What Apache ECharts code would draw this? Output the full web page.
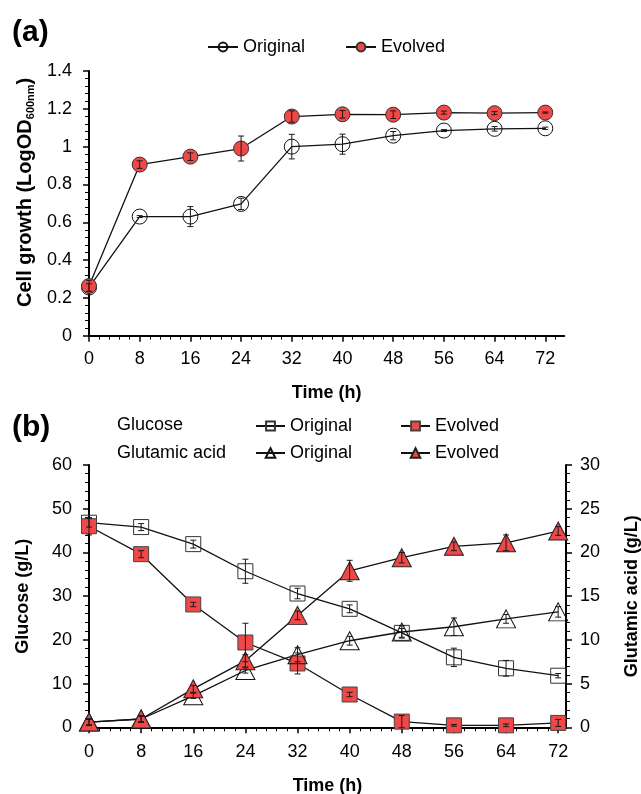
<!DOCTYPE html>
<html>
<head>
<meta charset="utf-8">
<script src="https://cdn.jsdelivr.net/npm/echarts@6/dist/echarts.min.js"></script>
<style>
html,body{margin:0;padding:0;background:#fff;}
#chart{width:641px;height:794px;}
</style>
</head>
<body>
<div id="chart"></div>
<script>
// ---- data ----
const time = [0, 8, 16, 24, 32, 40, 48, 56, 64, 72];
const xTicks = [0, 8, 16, 24, 32, 40, 48, 56, 64, 72];

const growthOriginal    = [0.255, 0.63, 0.63, 0.697, 1.0, 1.013, 1.058, 1.085, 1.094, 1.097];
const growthOriginalErr = [0.02, 0.005, 0.053, 0.03, 0.065, 0.053, 0.022, 0.005, 0.012, 0.006];
const growthEvolved     = [0.263, 0.905, 0.947, 0.99, 1.159, 1.171, 1.169, 1.18, 1.177, 1.18];
const growthEvolvedErr  = [0.03, 0.02, 0.02, 0.066, 0.03, 0.02, 0.02, 0.008, 0.008, 0.003];

const glucoseOriginal    = [46.8, 45.8, 41.9, 35.7, 30.6, 27.1, 21.6, 16.0, 13.5, 11.8];
const glucoseOriginalErr = [1.0, 0.8, 0.9, 2.75, 1.2, 0.9, 1.0, 2.1, 1.8, 0.5];
const glucoseEvolved     = [46.0, 39.6, 28.1, 19.4, 14.6, 7.5, 1.3, 0.45, 0.45, 1.0];
const glucoseEvolvedErr  = [2.0, 0.8, 0.5, 4.4, 2.4, 0.5, 1.4, 0.2, 0.3, 0.8];

const glutamicOriginal    = [0.6, 0.95, 3.6, 6.5, 8.3, 9.9, 10.9, 11.5, 12.4, 13.2];
const glutamicOriginalErr = [0.3, 0.3, 0.3, 0.3, 0.8, 0.5, 0.7, 1.0, 0.5, 0.6];
const glutamicEvolved     = [0.6, 0.95, 4.4, 7.6, 12.8, 17.9, 19.4, 20.7, 21.1, 22.45];
const glutamicEvolvedErr  = [0.4, 0.4, 0.4, 0.7, 0.5, 1.2, 0.6, 0.5, 0.9, 0.5];

// ---- helpers ----
const FONT = 'Liberation Sans, Arial, sans-serif';
const RED = '#F04848';
const minorX = (max) => { const a = []; for (let v = 1.6; v <= max + 1e-9; v += 1.6) { const r = Math.round(v * 10) / 10; if (Math.abs(r / 8 - Math.round(r / 8)) > 1e-6) a.push(r); } return a; };

function pts(vals) { return time.map((t, i) => [t, vals[i]]); }
function errs(vals, e) { return time.map((t, i) => [t, vals[i] - e[i], vals[i] + e[i]]); }

function errRender(params, api) {
  const x = api.value(0), lo = api.value(1), hi = api.value(2);
  const p0 = api.coord([x, lo]), p1 = api.coord([x, hi]);
  const w = 3;
  const st = { stroke: '#1a1a1a', lineWidth: 1 };
  return { type: 'group', children: [
    { type: 'line', shape: { x1: p0[0], y1: p0[1], x2: p1[0], y2: p1[1] }, style: st },
    { type: 'line', shape: { x1: p0[0] - w, y1: p0[1], x2: p0[0] + w, y2: p0[1] }, style: st },
    { type: 'line', shape: { x1: p1[0] - w, y1: p1[1], x2: p1[0] + w, y2: p1[1] }, style: st }
  ]};
}

function lineSeries(name, xi, yi, data, symbol, size, fill, border) {
  return {
    type: 'line', name: name, xAxisIndex: xi, yAxisIndex: yi, data: data,
    symbol: symbol, symbolSize: size, showAllSymbol: true,
    lineStyle: { color: '#111', width: 1.3 },
    itemStyle: { color: fill, borderColor: border, borderWidth: 1 },
    emphasis: { disabled: true }, z: 3
  };
}
function errSeries(xi, yi, data) {
  return { type: 'custom', xAxisIndex: xi, yAxisIndex: yi, data: data, renderItem: errRender,
    encode: { x: 0, y: [1, 2] }, z: 5, silent: true };
}

const axisLineStyle = { color: '#000', width: 2 };
const tickLabel = { color: '#000', fontSize: 18, fontFamily: FONT };
const nameStyle = { color: '#000', fontSize: 18, fontWeight: 'bold', fontFamily: FONT };

function mainX(grid, max, margin, gap) {
  return {
    type: 'value', gridIndex: grid, min: 0, max: max, interval: 8,
    axisLine: { show: true, lineStyle: axisLineStyle, onZero: false },
    axisTick: { show: true, length: 6, lineStyle: { color: '#000', width: 1.5 }, customValues: xTicks },
    axisLabel: Object.assign({ margin: margin, customValues: xTicks }, tickLabel),
    splitLine: { show: false },
    name: 'Time (h)', nameLocation: 'middle', nameGap: gap, nameTextStyle: nameStyle
  };
}
function minorXAxis(grid, max) {
  return {
    type: 'value', gridIndex: grid, min: 0, max: max, position: 'bottom',
    axisLine: { show: false },
    axisTick: { show: true, length: 4, lineStyle: { color: '#000', width: 1 }, customValues: minorX(max) },
    axisLabel: { show: false }, splitLine: { show: false }
  };
}
function yAx(grid, max, interval, position, name, gap, extra) {
  return Object.assign({
    type: 'value', gridIndex: grid, min: 0, max: max, interval: interval, position: position,
    axisLine: { show: true, lineStyle: axisLineStyle, onZero: false },
    axisTick: { show: true, length: 6, lineStyle: { color: '#000', width: 1.5 } },
    minorTick: { show: true, splitNumber: 5, length: 4, lineStyle: { color: '#000', width: 1 } },
    axisLabel: Object.assign({ margin: position === 'left' ? 17 : 14 }, tickLabel),
    splitLine: { show: false }, minorSplitLine: { show: false },
    name: name, nameLocation: 'middle', nameRotate: 90, nameGap: gap, nameTextStyle: nameStyle
  }, extra || {});
}

const chart = echarts.init(document.getElementById('chart'), null, { renderer: 'canvas' });

const option = {
  animation: false,
  backgroundColor: '#fff',
  textStyle: { fontFamily: FONT },
  grid: [
    { left: 89, top: 71, width: 475.3, height: 264.7, containLabel: false, outerBoundsMode: 'none' },
    { left: 89, top: 465, width: 477, height: 262.3, containLabel: false, outerBoundsMode: 'none' }
  ],
  xAxis: [ mainX(0, 75, 14, 48), minorXAxis(0, 75), mainX(1, 73.2, 16, 50), minorXAxis(1, 73.2) ],
  yAxis: [
    yAx(0, 1.4, 0.2, 'left', '{b|Cell growth (LogOD}{s|600nm}{b|)}', 50, {
      nameTextStyle: { color: '#000', fontFamily: FONT, padding: [0, 0, 0, 22], rich: {
        b: { fontSize: 20, fontWeight: 'bold', color: '#000', fontFamily: FONT, lineHeight: 24 },
        s: { fontSize: 11, fontWeight: 'bold', color: '#000', fontFamily: FONT, lineHeight: 24, padding: [10, 0, 0, 0] }
      } }
    }),
    yAx(1, 60, 10, 'left', 'Glucose (g/L)', 57),
    yAx(1, 30, 5, 'right', 'Glutamic acid (g/L)', 57)
  ],
  legend: [
    { left: 202, top: 33, itemWidth: 30, itemHeight: 11, itemGap: 40,
      textStyle: { fontSize: 18, color: '#000', fontFamily: FONT },
      data: ['Original', 'Evolved'], selectedMode: false },
    { left: 250, top: 412, itemWidth: 29, itemHeight: 11, itemGap: 48,
      textStyle: { fontSize: 18, color: '#000', fontFamily: FONT },
      formatter: (n) => n.split('|')[1],
      data: ['Glucose|Original', 'Glucose|Evolved'], selectedMode: false },
    { left: 250, top: 439, itemWidth: 29, itemHeight: 12, itemGap: 48,
      textStyle: { fontSize: 18, color: '#000', fontFamily: FONT },
      formatter: (n) => n.split('|')[1],
      data: ['Glutamic acid|Original', 'Glutamic acid|Evolved'], selectedMode: false }
  ],
  graphic: [
    { type: 'text', x: 12, y: 33, style: { text: '(a)', font: 'bold 30px ' + FONT, fill: '#000', verticalAlign: 'middle' } },
    { type: 'text', x: 12, y: 428, style: { text: '(b)', font: 'bold 30px ' + FONT, fill: '#000', verticalAlign: 'middle' } },
    { type: 'text', x: 117, y: 425, style: { text: 'Glucose', font: '18px ' + FONT, fill: '#000', verticalAlign: 'middle' } },
    { type: 'text', x: 117, y: 453, style: { text: 'Glutamic acid', font: '18px ' + FONT, fill: '#000', verticalAlign: 'middle' } }
  ],
  series: [
    lineSeries('Original', 0, 0, pts(growthOriginal), 'circle', 15, 'rgba(255,255,255,0)', '#111'),
    lineSeries('Evolved', 0, 0, pts(growthEvolved), 'circle', 15, RED, '#333'),
    errSeries(0, 0, errs(growthOriginal, growthOriginalErr)),
    errSeries(0, 0, errs(growthEvolved, growthEvolvedErr)),

    lineSeries('Glucose|Original', 2, 1, pts(glucoseOriginal), 'rect', 15, 'rgba(255,255,255,0)', '#333'),
    lineSeries('Glucose|Evolved', 2, 1, pts(glucoseEvolved), 'rect', 15, RED, '#444'),
    lineSeries('Glutamic acid|Original', 2, 2, pts(glutamicOriginal), 'triangle', [19, 18], 'rgba(255,255,255,0)', '#111'),
    lineSeries('Glutamic acid|Evolved', 2, 2, pts(glutamicEvolved), 'triangle', [19, 18], RED, '#222'),
    errSeries(2, 1, errs(glucoseOriginal, glucoseOriginalErr)),
    errSeries(2, 1, errs(glucoseEvolved, glucoseEvolvedErr)),
    errSeries(2, 2, errs(glutamicOriginal, glutamicOriginalErr)),
    errSeries(2, 2, errs(glutamicEvolved, glutamicEvolvedErr))
  ]
};
chart.setOption(option);
</script>
</body>
</html>
